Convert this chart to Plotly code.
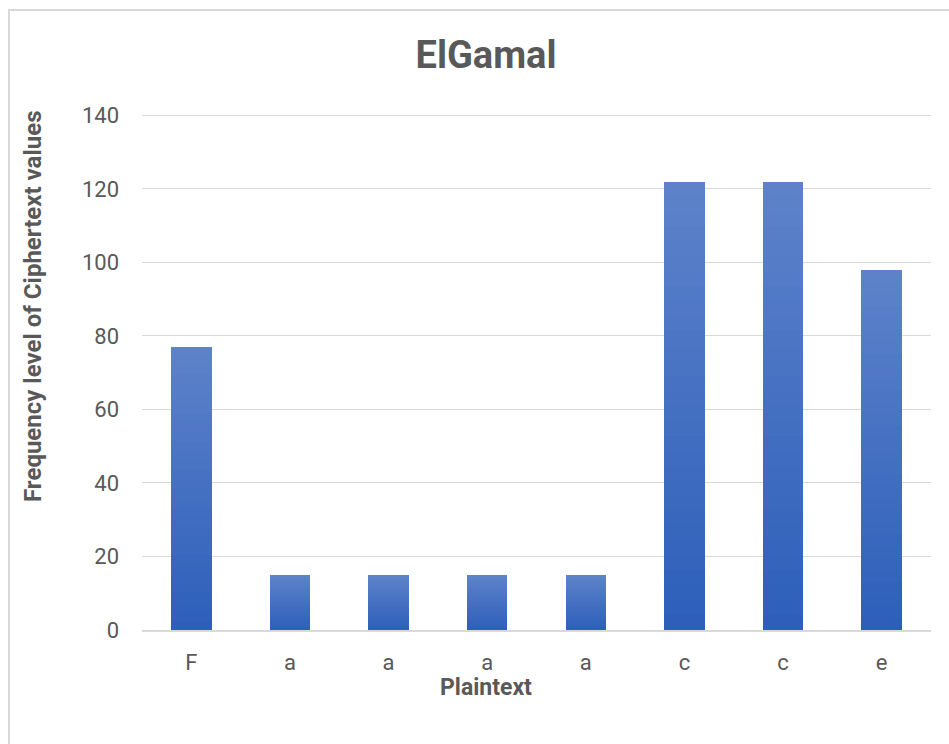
import plotly.graph_objects as go

# Chart data
categories = ["F", "a", "a", "a", "a", "c", "c", "e"]
frequencies = [77, 15, 15, 15, 15, 122, 122, 98]
y_ticks = [0, 20, 40, 60, 80, 100, 120, 140]

# Vertical gradient for each bar: dark at the base, lighter at the top
bottom_rgb = (45, 95, 186)
top_rgb = (93, 130, 202)
n_steps = 30

positions = list(range(len(categories)))

fig = go.Figure()
for k in range(n_steps):
    t = k / (n_steps - 1)
    r, g, b = (round(bottom_rgb[i] + (top_rgb[i] - bottom_rgb[i]) * t) for i in range(3))
    fig.add_trace(go.Bar(
        x=positions,
        y=[v / n_steps for v in frequencies],
        marker=dict(color=f"rgb({r},{g},{b})", line=dict(width=0)),
        showlegend=False,
        hoverinfo="skip",
    ))

y_top = 140.4  # small headroom so the top gridline is not clipped

plot_h = 630 - 114
fig.update_layout(
    width=949,
    height=744,
    barmode="stack",
    bargap=0.59,
    paper_bgcolor="white",
    plot_bgcolor="white",
    margin=dict(l=142, r=18, t=114, b=114),
    font=dict(family="Roboto, sans-serif", color="#595959"),
    title=dict(
        text="<b>ElGamal</b>",
        font=dict(family="Roboto, sans-serif", size=38, color="#595959"),
        x=486 / 949, xanchor="center", xref="container",
        y=1 - 55 / 744, yanchor="middle", yref="container",
    ),
    xaxis=dict(
        tickmode="array",
        tickvals=positions,
        ticktext=categories,
        tickfont=dict(size=22, color="#595959"),
        showgrid=False,
        showline=True,
        linecolor="#d9d9d9",
        linewidth=2,
        ticks="",
        ticklabelstandoff=12,
        range=[-0.5, len(categories) - 0.5],
        zeroline=False,
    ),
    yaxis=dict(
        range=[0, y_top],
        tickvals=y_ticks,
        tickfont=dict(size=22, color="#595959"),
        showgrid=True,
        gridcolor="#d9d9d9",
        gridwidth=1,
        zeroline=False,
        showline=False,
        ticks="",
        ticklabelstandoff=22,
    ),
    annotations=[
        dict(
            text="<b>Plaintext</b>",
            xref="paper", yref="paper",
            x=(486 - 142) / 789, y=(630 - 687) / plot_h,
            xanchor="center", yanchor="middle",
            showarrow=False,
            font=dict(family="Roboto, sans-serif", size=23, color="#595959"),
        ),
        dict(
            text="<b>Frequency level of Ciphertext values</b>",
            xref="paper", yref="paper",
            x=(33 - 142) / 789, y=(630 - 306) / plot_h,
            xanchor="center", yanchor="middle",
            textangle=-90,
            showarrow=False,
            font=dict(family="Roboto, sans-serif", size=24, color="#595959"),
        ),
    ],
    shapes=[
        # Outer chart frame
        dict(
            type="rect", xref="paper", yref="paper",
            x0=(9 - 142) / 789, x1=1.2,
            y0=-0.4, y1=(630 - 10) / plot_h,
            line=dict(color="#d9d9d9", width=2),
            fillcolor="rgba(0,0,0,0)",
            layer="below",
        )
    ],
)

fig.write_html("out.html")
